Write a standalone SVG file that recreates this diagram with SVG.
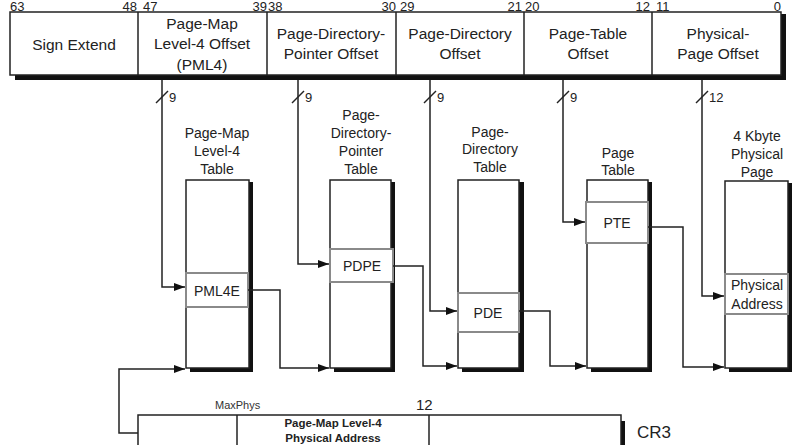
<svg xmlns="http://www.w3.org/2000/svg" width="800" height="445" viewBox="0 0 800 445">
<defs>
<marker id="ah" markerUnits="userSpaceOnUse" markerWidth="12" markerHeight="9" refX="11" refY="4" orient="auto">
<path d="M0,0 L11,4 L0,8 z" fill="#111"/>
</marker>
<style>
.t{font-family:"Liberation Sans",Arial,sans-serif;fill:#222;text-anchor:middle}
.reg{font-size:15.5px}
.bit{font-family:"Liberation Sans",Arial,sans-serif;fill:#222;font-size:13px}
.lab{font-size:14px}
.box{fill:#fff;stroke:#222;stroke-width:1.5}
.sh{fill:#111}
.ent{fill:#fff;stroke:#8a8a8a;stroke-width:2}
.c{fill:none;stroke:#222;stroke-width:1.5}
.arr{marker-end:url(#ah)}
</style>
</defs>
<rect width="800" height="445" fill="#fff"/>

<g id="register">
<rect class="sh" x="15" y="14" width="771" height="66"/>
<rect class="box" x="10" y="12" width="771" height="63"/>
<line class="c" x1="138" y1="12" x2="138" y2="75"/>
<line class="c" x1="267" y1="12" x2="267" y2="75"/>
<line class="c" x1="396" y1="12" x2="396" y2="75"/>
<line class="c" x1="524" y1="12" x2="524" y2="75"/>
<line class="c" x1="652" y1="12" x2="652" y2="75"/>
<text class="bit" x="10" y="10.5">63</text>
<text class="bit" x="137" y="10.5" text-anchor="end">48</text>
<text class="bit" x="143" y="10.5">47</text>
<text class="bit" x="267" y="10.5" text-anchor="end">39</text>
<text class="bit" x="268" y="10.5">38</text>
<text class="bit" x="396" y="10.5" text-anchor="end">30</text>
<text class="bit" x="400" y="10.5">29</text>
<text class="bit" x="522" y="10.5" text-anchor="end">21</text>
<text class="bit" x="525" y="10.5">20</text>
<text class="bit" x="650" y="10.5" text-anchor="end">12</text>
<text class="bit" x="656" y="10.5">11</text>
<text class="bit" x="781" y="10.5" text-anchor="end">0</text>
<text class="t reg" x="74" y="50">Sign Extend</text>
<text class="t reg" x="202" y="28.5">Page-Map</text>
<text class="t reg" x="202" y="49">Level-4 Offset</text>
<text class="t reg" x="202" y="69.5">(PML4)</text>
<text class="t reg" x="331" y="39">Page-Directory-</text>
<text class="t reg" x="331" y="59">Pointer Offset</text>
<text class="t reg" x="460" y="39">Page-Directory</text>
<text class="t reg" x="460" y="59">Offset</text>
<text class="t reg" x="588" y="39">Page-Table</text>
<text class="t reg" x="588" y="59">Offset</text>
<text class="t reg" x="718" y="39">Physical-</text>
<text class="t reg" x="718" y="59">Page Offset</text>
</g>

<g id="pml4-table">
<rect class="sh" x="190" y="182" width="63" height="190"/>
<rect class="box" x="186" y="180" width="63" height="188"/>
<rect class="ent" x="186" y="273" width="62" height="34"/>
<text class="t lab" x="217" y="296">PML4E</text>
<text class="t lab" x="217" y="138">Page-Map</text>
<text class="t lab" x="217" y="156">Level-4</text>
<text class="t lab" x="217" y="174">Table</text>
</g>

<g id="pdp-table">
<rect class="sh" x="334" y="182" width="61" height="190"/>
<rect class="box" x="330" y="180" width="61" height="188"/>
<rect class="ent" x="330" y="249" width="63" height="33"/>
<text class="t lab" x="362" y="271">PDPE</text>
<text class="t lab" x="361" y="120">Page-</text>
<text class="t lab" x="361" y="138">Directory-</text>
<text class="t lab" x="361" y="156">Pointer</text>
<text class="t lab" x="361" y="174">Table</text>
</g>

<g id="pd-table">
<rect class="sh" x="462" y="182" width="62" height="190"/>
<rect class="box" x="458" y="180" width="61" height="188"/>
<rect class="ent" x="458" y="293" width="61" height="39"/>
<text class="t lab" x="488" y="318">PDE</text>
<text class="t lab" x="490" y="137">Page-</text>
<text class="t lab" x="490" y="154">Directory</text>
<text class="t lab" x="490" y="172">Table</text>
</g>

<g id="page-table">
<rect class="sh" x="591" y="182" width="61" height="190"/>
<rect class="box" x="587" y="180" width="61" height="188"/>
<rect class="ent" x="586" y="202" width="62" height="41"/>
<text class="t lab" x="617" y="228">PTE</text>
<text class="t lab" x="618" y="158">Page</text>
<text class="t lab" x="618" y="175">Table</text>
</g>

<g id="physical-page">
<rect class="sh" x="729" y="183" width="63" height="189"/>
<rect class="box" x="725" y="181" width="63" height="187"/>
<rect class="ent" x="725" y="274" width="63" height="40"/>
<text class="t lab" x="757" y="290">Physical</text>
<text class="t lab" x="757" y="309">Address</text>
<text class="t lab" x="757" y="141">4 Kbyte</text>
<text class="t lab" x="757" y="159">Physical</text>
<text class="t lab" x="757" y="177">Page</text>
</g>

<g id="cr3">
<rect class="sh" x="142" y="421" width="483" height="40"/>
<rect class="box" x="138" y="415" width="483" height="45"/>
<line class="c" x1="237" y1="415" x2="237" y2="445"/>
<line class="c" x1="429" y1="415" x2="429" y2="445"/>
<text x="215" y="409" style="font-family:'Liberation Sans',Arial,sans-serif;font-size:11px;fill:#333">MaxPhys</text>
<text x="416" y="410" style="font-family:'Liberation Sans',Arial,sans-serif;font-size:15px;fill:#222">12</text>
<text class="t" x="333" y="427" style="font-size:11.5px;font-weight:bold">Page-Map Level-4</text>
<text class="t" x="333" y="442" style="font-size:11.5px;font-weight:bold">Physical Address</text>
<text x="637" y="438" style="font-family:'Liberation Sans',Arial,sans-serif;font-size:17px;fill:#222">CR3</text>
</g>

<g id="connectors">
<polyline class="c arr" points="162,80 162,287 185,287"/>
<polyline class="c arr" points="298,80 298,264 329,264"/>
<polyline class="c arr" points="430,80 430,311 457,311"/>
<polyline class="c arr" points="563,80 563,222 585,222"/>
<polyline class="c arr" points="702,80 702,296 724,296"/>
<polyline class="c arr" points="248,290 280,290 280,368 329,368"/>
<polyline class="c arr" points="393,266 423,266 423,366 457,366"/>
<polyline class="c arr" points="519,311 550,311 550,366 586,366"/>
<polyline class="c arr" points="648,227 683,227 683,367 724,367"/>
<polyline class="c arr" points="138,433 119,433 119,369 185,369"/>
<line class="c" x1="156" y1="103" x2="168" y2="91"/>
<line class="c" x1="292" y1="103" x2="304" y2="91"/>
<line class="c" x1="424" y1="103" x2="436" y2="91"/>
<line class="c" x1="557" y1="103" x2="569" y2="91"/>
<line class="c" x1="696" y1="103" x2="708" y2="91"/>
<text class="bit" x="169" y="102">9</text>
<text class="bit" x="305" y="102">9</text>
<text class="bit" x="437" y="102">9</text>
<text class="bit" x="570" y="102">9</text>
<text class="bit" x="709" y="102">12</text>
</g>
</svg>
